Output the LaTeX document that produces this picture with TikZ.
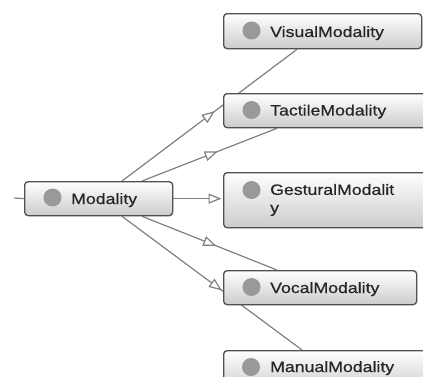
\documentclass[tikz,border=0pt]{standalone}
\usepackage{fontspec}
\setmainfont[FakeStretch=1.18,FakeBold=0.5]{Liberation Sans}
\usetikzlibrary{arrows.meta,calc,decorations.markings,shadows}
\pgfdeclarelayer{bg}
\pgfsetlayers{bg,main}
\definecolor{edgegray}{HTML}{808080}
\definecolor{bordergray}{HTML}{505050}
\definecolor{dotgray}{HTML}{999999}
\definecolor{txt}{HTML}{262626}
\tikzset{
 box/.style={draw=bordergray, line width=1.3pt, rounded corners=3.5pt, top color=white, bottom color=black!20, anchor=north west, inner sep=0pt, drop shadow={opacity=0.12,shadow xshift=0.8pt,shadow yshift=-0.8pt}},
 dot/.style={circle, fill=dotgray, minimum size=18pt, inner sep=0pt},
 lbl/.style={inner sep=0pt, text=txt, font=\fontsize{15}{18}\selectfont, anchor=base west},
 conn/.style={draw=edgegray, line width=1.2pt},
 hollowtip/.style={-{Triangle[length=13pt,width=10pt,fill=white]}},
 arrowat/.style={postaction={decorate}, decoration={markings, mark=at position #1 with {\arrow{Triangle[length=13pt,width=10pt,fill=white]}}}}
}
\begin{document}
\begin{tikzpicture}[x=1pt,y=-1pt]
\useasboundingbox (0,0) rectangle (423,376);
\clip (0,0) rectangle (423,376);
% boxes
\node[box, minimum width=148pt, minimum height=34pt] (mod) at (24,181) {};
\node[dot] (modd) at (52.5,197.5) {};
\node[lbl] (modt) at (71,204) {Modality};
\node[box, minimum width=198pt, minimum height=35pt] (vis) at (223,13) {};
\node[dot] (visd) at (251.5,30.5) {};
\node[lbl] (vist) at (270,37) {VisualModality};
\node[box, minimum width=215pt, minimum height=34pt] (tac) at (223,93) {};
\node[dot] (tacd) at (251.5,110) {};
\node[lbl] (tact) at (270,115.5) {TactileModality};
\node[box, minimum width=215pt, minimum height=55pt] (ges) at (223,172) {};
\node[dot] (gesd) at (251.5,190) {};
\node[lbl, align=left, anchor=west] (gest) at (270,200) {GesturalModalit\\y};
\node[box, minimum width=193pt, minimum height=34pt] (voc) at (223,270) {};
\node[dot] (vocd) at (251.5,287) {};
\node[lbl] (voct) at (270,293) {VocalModality};
\node[box, minimum width=215pt, minimum height=40pt] (man) at (223,350) {};
\node[dot] (mand) at (251,367) {};
\node[lbl] (mant) at (270,372) {ManualModality};
% connectors
\begin{pgfonlayer}{bg}
\coordinate (stub) at (14,198);
\draw[conn] (stub) -- (mod.west);
\draw[conn, arrowat=0.53] ($(mod.north west)+(98,0)$) -- ($(vis.south west)+(74,0)$);
\draw[conn, arrowat=0.56] ($(mod.north west)+(118,0)$) -- ($(tac.south west)+(54,0)$);
\draw[conn, hollowtip, shorten >=1.5pt] (mod.east) -- (mod.east -| ges.west);
\draw[conn, arrowat=0.55] ($(mod.south west)+(118,0)$) -- ($(voc.north west)+(54,0)$);
\draw[conn, arrowat=0.555] ($(mod.south west)+(98,0)$) -- ($(man.north west)+(79,0)$);
\end{pgfonlayer}
\end{tikzpicture}
\end{document}
